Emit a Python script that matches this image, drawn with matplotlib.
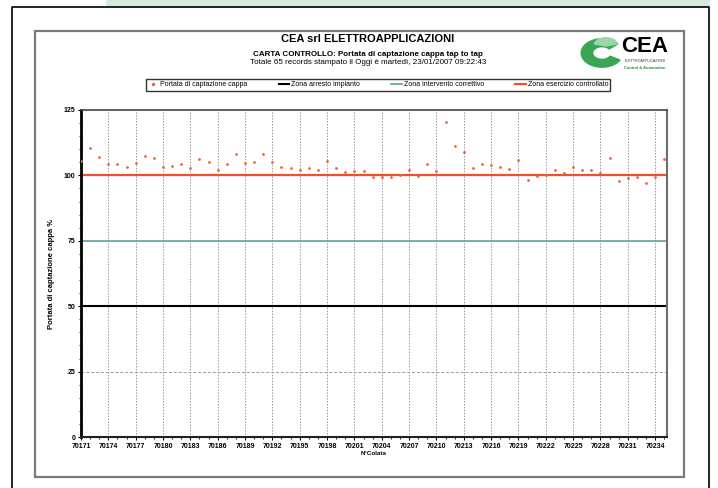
import numpy as np
import matplotlib
matplotlib.use("Agg")
import matplotlib.pyplot as plt
from matplotlib.patches import Rectangle, Wedge
from matplotlib.lines import Line2D

plt.rcParams['font.family'] = ['Liberation Sans', 'DejaVu Sans']

# data
records = list(range(70171, 70236))   # N° Colata, 65 records
portata = [105.5, 110.6, 106.9, 104.2, 104.4, 103.3, 104.7, 107.5, 106.8, 103.3,
           103.7, 104.5, 102.8, 106.1, 105.1, 102.2, 104.2, 108.1, 104.9, 105.1,
           108.1, 105.0, 103.3, 102.7, 101.9, 102.9, 101.9, 105.6, 102.7, 101.2,
           101.8, 101.6, 99.3, 99.4, 99.5, 100.2, 102.2, 99.9, 104.5, 101.7,
           120.3, 111.1, 108.9, 102.7, 104.2, 103.9, 103.3, 102.4, 106.0, 98.2,
           99.9, 100.1, 102.2, 100.8, 103.2, 101.9, 102.2, 101.0, 106.5, 97.9,
           99.1, 99.3, 97.0, 99.5, 106.2]
zona_arresto = 50
zona_intervento = 75
zona_esercizio = 100
x_ticks = records[::3]
y_ticks = [0, 25, 50, 75, 100, 125]

W, H = 718, 488
fig = plt.figure(figsize=(W / 100, H / 100), dpi=100)


def fx(px):
    return px / W


def fy(py):
    return 1 - py / H


# page decorations
fig.add_artist(Rectangle((fx(106), fy(7)), fx(710) - fx(106), 7 / H,
                         transform=fig.transFigure, color='#d6ecd9', lw=0))
fig.add_artist(Line2D([fx(12), fx(12), fx(709), fx(709)], [0, fy(7), fy(7), 0],
                      transform=fig.transFigure, color='black', lw=1.2))
fig.add_artist(Rectangle((fx(35), fy(477)), fx(684) - fx(35), (477 - 31) / H,
                         transform=fig.transFigure, fill=False,
                         edgecolor='#7a7a7a', lw=1.6))

# titles
fig.text(fx(368), fy(39), 'CEA srl ELETTROAPPLICAZIONI', ha='center', va='center',
         fontsize=8, fontweight='bold')
fig.text(fx(368), fy(54), 'CARTA CONTROLLO: Portata di captazione cappa tap to tap',
         ha='center', va='center', fontsize=5.8, fontweight='bold')
fig.text(fx(368), fy(63), 'Totale 65 records stampato il Oggi è martedì, 23/01/2007 09:22:43',
         ha='center', va='center', fontsize=5.8)

# logo
fig.add_artist(Wedge((fx(602), fy(53)), 0.029, 40, 330, width=0.016,
                     transform=fig.transFigure, color='#3aa655'))
fig.add_artist(Wedge((fx(606), fy(46)), 0.017, 15, 165,
                     transform=fig.transFigure, color='#9ad6a8'))
fig.text(fx(645), fy(47), 'CEA', ha='center', va='center', fontsize=16,
         fontweight='bold', color='black')
fig.text(fx(645), fy(61), 'ELETTROAPPLICAZIONI', ha='center', va='center',
         fontsize=2.6, color='#333333')
fig.text(fx(645), fy(68), 'Control & Automation', ha='center', va='center',
         fontsize=2.9, color='#2e8b3e', fontweight='bold')

# chart
ax = fig.add_axes([fx(81), fy(437), (667 - 81) / W, (437 - 110) / H])
ax.axhline(zona_arresto, color='black', lw=1.5, zorder=2)
ax.axhline(zona_intervento, color='#5f9f9c', lw=1.2, zorder=2)
ax.axhline(zona_esercizio, color='#f0502e', lw=1.6, zorder=2)
ax.scatter(records, portata, s=4, color='#e5683f', zorder=3, linewidths=0)

ax.set_xlim(70171, 70235.3)
ax.set_ylim(0, 125)
ax.set_xticks(x_ticks)
ax.set_xticks(records, minor=True)
ax.set_yticks(y_ticks)
ax.set_yticks(range(0, 126, 5), minor=True)
ax.tick_params(axis='both', which='major', labelsize=5, length=2, pad=2)
ax.tick_params(axis='both', which='minor', length=1.2)
for lab in ax.get_xticklabels() + ax.get_yticklabels():
    lab.set_fontweight('bold')

ax.grid(axis='x', which='major', color='#9a9a9a', ls=(0, (1.5, 1.5)), lw=0.7)
ax.axhline(25, color='#9a9a9a', ls=(0, (3, 2)), lw=0.7, zorder=1)

ax.spines['left'].set_linewidth(2)
ax.spines['left'].set_color('black')
ax.spines['bottom'].set_linewidth(1.5)
ax.spines['bottom'].set_color('#222222')
ax.spines['right'].set_linewidth(1.5)
ax.spines['right'].set_color('#6e6e6e')
ax.spines['top'].set_linewidth(1.2)
ax.spines['top'].set_color('#444444')
ax.spines['top'].set_linestyle((0, (1.5, 1)))

ax.set_ylabel('Portata di captazione cappa %', fontsize=5.5, fontweight='bold', labelpad=6)
ax.set_xlabel('N°Colata', fontsize=4.5, fontweight='bold', labelpad=1)

handles = [
    Line2D([], [], ls='none', marker='.', ms=3, color='#e5683f'),
    Line2D([], [], color='black', lw=1.5),
    Line2D([], [], color='#5f9f9c', lw=1.2),
    Line2D([], [], color='#f0502e', lw=1.6),
]
labels = ['Portata di captazione cappa', 'Zona arresto impianto',
          'Zona intervento correttivo', 'Zona esercizio controllato']
leg = fig.legend(handles, labels, loc='center', bbox_to_anchor=(fx(378), fy(85)),
                 ncol=4, fontsize=5, frameon=True, fancybox=False, edgecolor='black',
                 handlelength=1.5, handletextpad=0.3, columnspacing=4.5,
                 borderpad=0.3)
leg.get_frame().set_linewidth(1.0)

fig.savefig('out.png', dpi=100)
